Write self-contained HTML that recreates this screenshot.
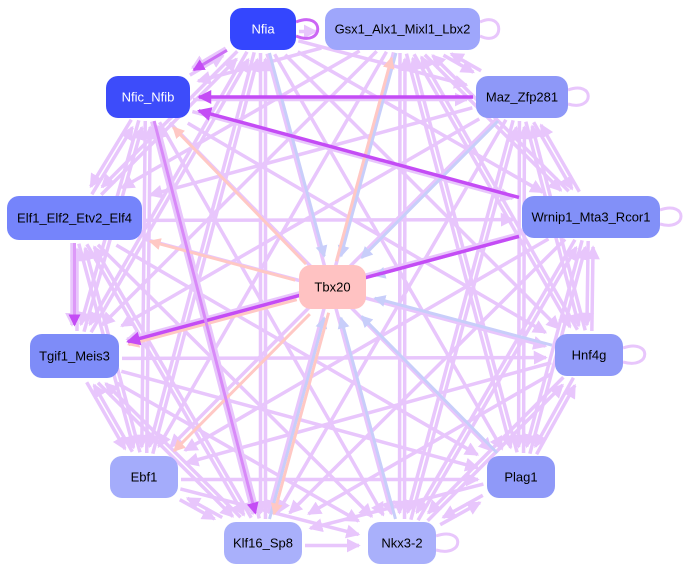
<!DOCTYPE html>
<html><head><meta charset="utf-8"><style>
html,body{margin:0;padding:0;background:#fff;width:691px;height:575px;overflow:hidden}
svg{display:block}
text{font-family:"Liberation Sans",sans-serif;font-size:13px}
</style></head><body>
<svg id="s" width="691" height="575" xmlns="http://www.w3.org/2000/svg">
<defs>
<marker id="ml" markerWidth="4" markerHeight="4" refX="3.5" refY="2" orient="auto" markerUnits="strokeWidth"><path d="M0,0L4,2L0,4z" fill="#e8c6fc"/></marker>
<marker id="md" markerWidth="4" markerHeight="4" refX="3.5" refY="2" orient="auto" markerUnits="strokeWidth"><path d="M0,0L4,2L0,4z" fill="#c44cf5"/></marker>
<marker id="mb" markerWidth="4" markerHeight="4" refX="3.5" refY="2" orient="auto" markerUnits="strokeWidth"><path d="M0,0L4,2L0,4z" fill="#c8cefa"/></marker>
<marker id="mp" markerWidth="4" markerHeight="4" refX="3.5" refY="2" orient="auto" markerUnits="strokeWidth"><path d="M0,0L4,2L0,4z" fill="#ffc8c4"/></marker>
</defs>
<g id="edges"></g>
<g id="loops" fill="none" stroke-width="3">
<path d="M296,22 C325,10 325,48 296,36" stroke="#cc66f5"/>
<path d="M480,22 C505,10 505,48 480,36" stroke="#e8c6fc"/>
<path d="M568,90 C595,80 595,112 568,104" stroke="#e8c6fc"/>
<path d="M660,210 C688,200 688,232 660,224" stroke="#e8c6fc"/>
<path d="M623,348 C652,338 652,370 623,362" stroke="#e8c6fc"/>
<path d="M436,536 C465,526 465,558 436,550" stroke="#e8c6fc"/>
</g>
<g id="nodes"></g>
</svg>
<script>
var N={
nfia:[230,8,66,42,"#3446fe","Nfia","#fff"],
gsx:[325,8,155,42,"#9ea6fb","Gsx1_Alx1_Mixl1_Lbx2","#000"],
nfic:[106,76,84,42,"#3d4cfa","Nfic_Nfib","#fff"],
maz:[476,76,92,42,"#8e98f8","Maz_Zfp281","#000"],
elf:[7,196,135,44,"#7584fb","Elf1_Elf2_Etv2_Elf4","#000"],
wrn:[522,196,138,42,"#8290f8","Wrnip1_Mta3_Rcor1","#000"],
tbx:[299,265,67,44,"#ffc2c2","Tbx20","#000"],
tgif:[30,334,89,44,"#7e8cf8","Tgif1_Meis3","#000"],
hnf:[555,334,68,42,"#8f99f8","Hnf4g","#000"],
ebf:[110,456,68,42,"#a4acfb","Ebf1","#000"],
plag:[487,456,68,42,"#8f99f8","Plag1","#000"],
klf:[224,522,78,42,"#a9b0fb","Klf16_Sp8","#000"],
nkx:[368,522,68,42,"#a9b0fb","Nkx3-2","#000"]};
var ns="http://www.w3.org/2000/svg";
function c(k){var n=N[k];return [n[0]+n[2]/2,n[1]+n[3]/2];}
function edge(a,b,col,m,w,off){
 var p=c(a),q=c(b);var dx=q[0]-p[0],dy=q[1]-p[1],L=Math.hypot(dx,dy);
 var ux=dx/L,uy=dy/L;var ox=-uy*(off||0),oy=ux*(off||0);
 function clip(k,sx,sy){var n=N[k],hw=n[2]/2+3,hh=n[3]/2+3;return Math.min(hw/Math.abs(sx||1e-9),hh/Math.abs(sy||1e-9));}
 var t1=clip(a,ux,uy),t2=clip(b,ux,uy)+6;
 var l=document.createElementNS(ns,"line");
 l.setAttribute("x1",p[0]+ux*t1+ox);l.setAttribute("y1",p[1]+uy*t1+oy);
 l.setAttribute("x2",q[0]-ux*t2+ox);l.setAttribute("y2",q[1]-uy*t2+oy);
 l.setAttribute("stroke",col);l.setAttribute("stroke-width",w||3);
 l.setAttribute("marker-end","url(#"+m+")");
 document.getElementById("edges").appendChild(l);
}
var keys=Object.keys(N).filter(function(k){return k!="tbx"});
for(var i=0;i<keys.length;i++)for(var j=i+1;j<keys.length;j++){
 edge(keys[i],keys[j],"#e8c6fc","ml",3.5,2.5);
 if((i+j)%2==0)edge(keys[j],keys[i],"#e8c6fc","ml",3.5,2.5);
}
["gsx","maz","wrn","hnf","plag","nkx","nfia","klf"].forEach(function(k){edge(k,"tbx","#c8cefa","mb",3,0);});
["gsx","nfic","elf","tgif","ebf","klf"].forEach(function(k){edge("tbx",k,"#ffc8c4","mp",3,-3);});
edge("maz","nfic","#c44cf5","md",3.5,0);
edge("wrn","nfic","#c44cf5","md",3.5,0);
edge("wrn","tgif","#c44cf5","md",3.5,0);
edge("nfia","nfic","#cc70f5","md",3,0);
edge("nfic","klf","#d88af8","md",3,0);
edge("elf","tgif","#dd99f8","md",3,0);
var g=document.getElementById("nodes");
for(var k in N){var n=N[k];
 var r=document.createElementNS(ns,"rect");
 r.setAttribute("x",n[0]);r.setAttribute("y",n[1]);r.setAttribute("width",n[2]);r.setAttribute("height",n[3]);
 r.setAttribute("rx",12);r.setAttribute("fill",n[4]);g.appendChild(r);
 var t=document.createElementNS(ns,"text");
 t.setAttribute("x",n[0]+n[2]/2);t.setAttribute("y",n[1]+n[3]/2+4.5);t.setAttribute("text-anchor","middle");
 t.setAttribute("fill",n[6]);t.textContent=n[5];g.appendChild(t);}
</script>
</body></html>
